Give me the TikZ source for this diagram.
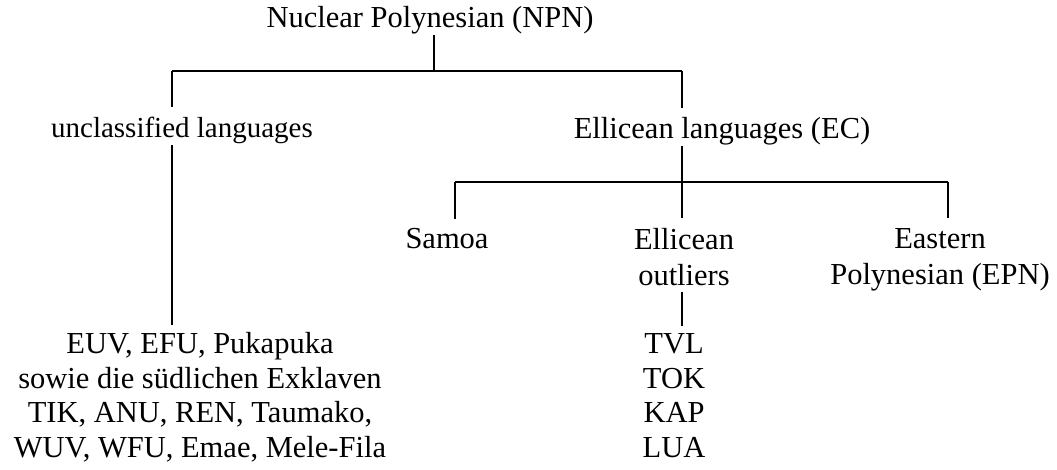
\documentclass[tikz,border=0pt]{standalone}
\usepackage{fontspec}
\setmainfont{Liberation Serif}
\begin{document}
\begin{tikzpicture}[x=1pt,y=-1pt,
  lbl/.style={inner sep=0pt, anchor=base, align=center,
              font=\fontsize{30.5}{34.5}\selectfont},
  lbl2/.style={lbl, font=\fontsize{30.5}{35.5}\selectfont},
  stem/.style={line width=1.7pt},
  bar/.style={line width=2.2pt}]
\useasboundingbox (0,0) rectangle (1057,470);

% labels
\node[lbl] (npn) at (430,28) {Nuclear Polynesian (NPN)};
\node[lbl, font=\fontsize{29}{34.5}\selectfont] (unc) at (182,138) {unclassified languages};
\node[lbl] (ec)  at (722,139) {Ellicean languages (EC)};
\node[lbl] (sam) at (447,249) {Samoa};
\node[lbl2] (out) at (684,285) {Ellicean\\outliers};
\node[lbl2] (epn) at (940,284) {Eastern\\Polynesian (EPN)};
\node[lbl] (lft) at (200,457) {EUV, EFU, Pukapuka\\sowie die südlichen Exklaven\\TIK, ANU, REN, Taumako,\\WUV, WFU, Emae, Mele-Fila};
\node[lbl] (rgt) at (674,457) {TVL\\TOK\\KAP\\LUA};

% branch points
\coordinate (top) at (434,71);
\coordinate (bL) at (172,71);
\coordinate (bR) at (682,71);
\coordinate (cL) at (455,182);
\coordinate (cR) at (948,182);

% first level
\draw[stem] (npn.south -| top) -- (top);
\draw[bar] (bL) -- (bR);
\draw[stem, shorten >=10pt] (bL) -- (bL |- unc.north);
\draw[stem, shorten <=1pt, shorten >=7pt] (bL |- unc.south) -- (bL |- lft.north);
\draw[stem, shorten >=10pt] (bR) -- (bR |- ec.north);

% Ellicean subgroups
\draw[stem, shorten >=10pt] (bR |- ec.south) -- (bR |- out.north);
\draw[bar] (cL) -- (cR);
\draw[stem, shorten >=10pt] (cL) -- (cL |- sam.north);
\draw[stem, shorten >=10pt] (cR) -- (cR |- epn.north);
\draw[stem, shorten <=7pt, shorten >=7pt] (bR |- out.south) -- (bR |- rgt.north);
\end{tikzpicture}
\end{document}
